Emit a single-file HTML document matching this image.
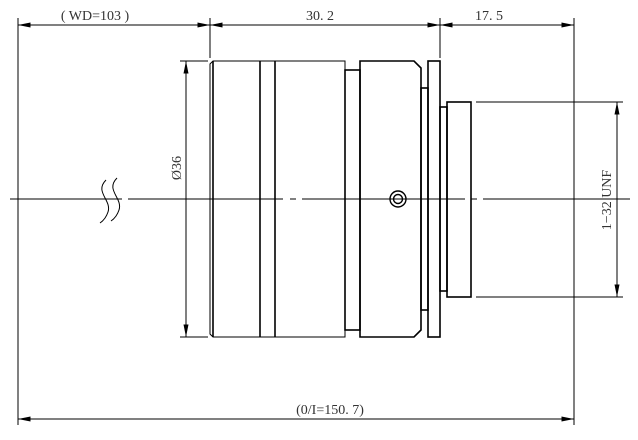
<!DOCTYPE html>
<html><head><meta charset="utf-8"><style>
html,body{margin:0;padding:0;background:#fff;}
svg{display:block;}
text{font-family:"Liberation Serif","Noto Serif CJK SC",serif;fill:#333;}
</style></head><body>
<svg width="638" height="440" viewBox="0 0 638 440" xmlns="http://www.w3.org/2000/svg">
<defs>
<marker id="a" viewBox="0 0 10 4" refX="10" refY="2" markerWidth="16" markerHeight="5" markerUnits="userSpaceOnUse" orient="auto"><path d="M0,0 L10,2 L0,4 Z" fill="#000"/></marker>
</defs>
<g stroke="#000" stroke-width="1" fill="none">
<line x1="18" y1="18" x2="18" y2="425"/>
<line x1="210" y1="18" x2="210" y2="58"/>
<line x1="440" y1="18" x2="440" y2="58"/>
<line x1="574" y1="18" x2="574" y2="425"/>
<line x1="18" y1="25" x2="574" y2="25"/>
<line x1="50" y1="25" x2="18" y2="25" marker-end="url(#a)"/>
<line x1="180" y1="25" x2="210" y2="25" marker-end="url(#a)"/>
<line x1="240" y1="25" x2="210" y2="25" marker-end="url(#a)"/>
<line x1="410" y1="25" x2="440" y2="25" marker-end="url(#a)"/>
<line x1="470" y1="25" x2="440" y2="25" marker-end="url(#a)"/>
<line x1="545" y1="25" x2="574" y2="25" marker-end="url(#a)"/>
<line x1="18" y1="419" x2="574" y2="419"/>
<line x1="50" y1="419" x2="18" y2="419" marker-end="url(#a)"/>
<line x1="545" y1="419" x2="574" y2="419" marker-end="url(#a)"/>
<line x1="180" y1="61" x2="208" y2="61"/>
<line x1="180" y1="337" x2="208" y2="337"/>
<line x1="186" y1="61" x2="186" y2="337"/>
<line x1="186" y1="90" x2="186" y2="61" marker-end="url(#a)"/>
<line x1="186" y1="310" x2="186" y2="337" marker-end="url(#a)"/>
<line x1="476" y1="102" x2="623" y2="102"/>
<line x1="476" y1="297" x2="623" y2="297"/>
<line x1="617" y1="102" x2="617" y2="297"/>
<line x1="617" y1="130" x2="617" y2="102" marker-end="url(#a)"/>
<line x1="617" y1="270" x2="617" y2="297" marker-end="url(#a)"/>
<line x1="10" y1="199" x2="122" y2="199"/>
<line x1="128" y1="199" x2="283" y2="199"/>
<line x1="290" y1="199" x2="296" y2="199"/>
<line x1="302" y1="199" x2="465" y2="199"/>
<line x1="471" y1="199" x2="477" y2="199"/>
<line x1="483" y1="199" x2="630" y2="199"/>
<path d="M106,180 C94,192 112,200 108,212 C106,218 103,221 100,223"/>
<path d="M117,178 C105,190 123,198 119,210 C117,216 114,219 111,221"/>
</g>
<g stroke="#000" stroke-width="1.6" fill="none">
<path d="M213,61 L345,61 L345,337 L213,337 L210,334 L210,64 Z" stroke-width="1"/>
<line x1="213" y1="61" x2="213" y2="337"/>
<line x1="260" y1="61" x2="260" y2="337"/>
<line x1="275" y1="61" x2="275" y2="337"/>
<rect x="345" y="70" width="15" height="260"/>
<path d="M360,61 L414,61 L421,68 L421,330 L414,337 L360,337 Z"/>
<rect x="421" y="88" width="7" height="222"/>
<rect x="428" y="61" width="12" height="276"/>
<rect x="440" y="107" width="7" height="184"/>
<rect x="447" y="102" width="24" height="195"/>
<circle cx="398" cy="199" r="8" stroke-width="1.4"/>
<circle cx="398" cy="199" r="4.5" stroke-width="1.4"/>
</g>
<text x="95" y="20" font-size="14" text-anchor="middle">( WD=103 )</text>
<text x="320" y="20" font-size="14" text-anchor="middle">30. 2</text>
<text x="489" y="20" font-size="14" text-anchor="middle">17. 5</text>
<text x="330" y="414" font-size="14" text-anchor="middle">(0/I=150. 7)</text>
<text transform="translate(181,168) rotate(-90)" font-size="14" text-anchor="middle">Ø36</text>
<text transform="translate(611,200) rotate(-90)" font-size="14" text-anchor="middle">1−32 UNF</text>
</svg>
</body></html>
